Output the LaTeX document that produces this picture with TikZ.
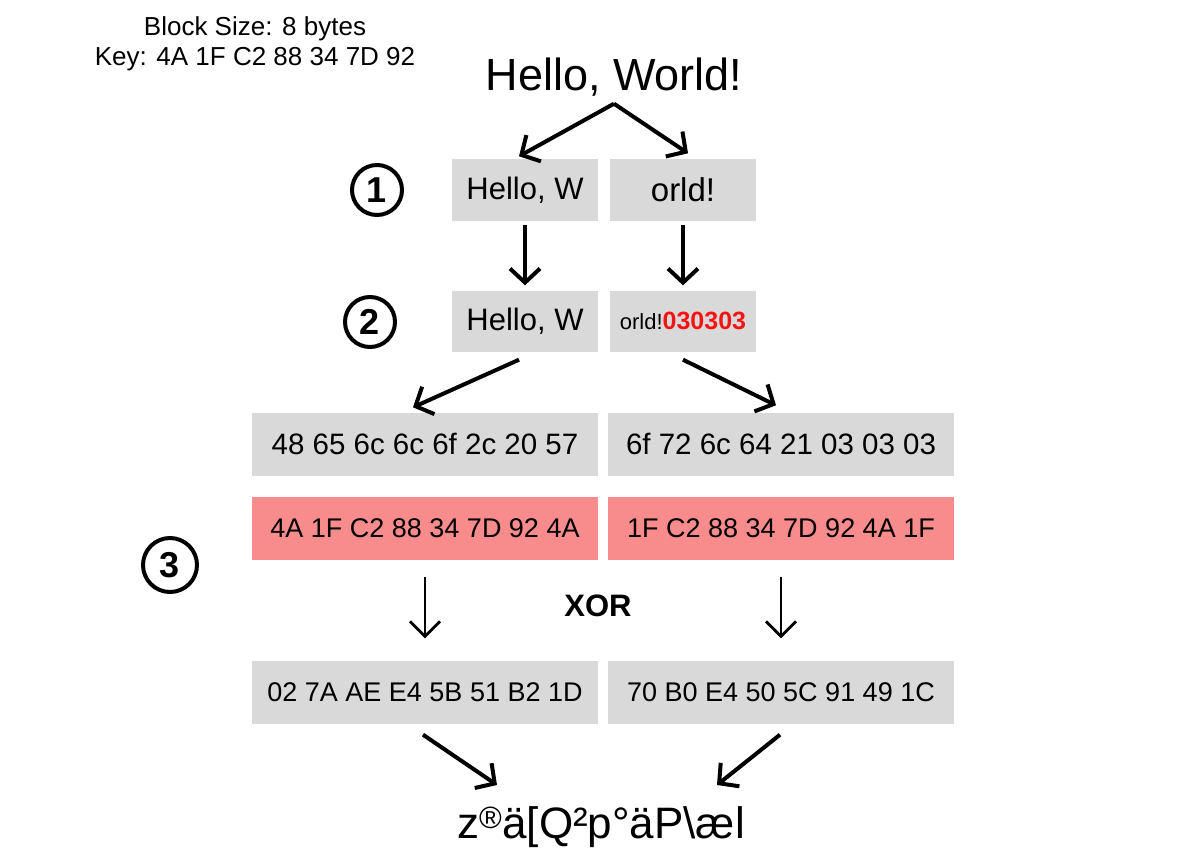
\documentclass[tikz,border=0pt]{standalone}
\usepackage{fontspec}
\setmainfont{Liberation Sans}
\usetikzlibrary{arrows.meta}

\definecolor{blkgray}{HTML}{D9D9D9}
\definecolor{keyred}{HTML}{F88C8C}
\definecolor{padred}{HTML}{F51414}

\newcommand{\fsz}[1]{\fontsize{#1}{1.2\dimexpr#1pt\relax}\selectfont}

\begin{document}
\begin{tikzpicture}[x=1pt, y=-1pt,
    blk/.style={fill=blkgray, inner sep=0pt, minimum width=146pt, minimum height=61pt, font=\fsz{31}},
    hexblk/.style={blk, minimum width=346pt, minimum height=63pt, font=\fsz{27}},
    keyblk/.style={hexblk, fill=keyred},
    numcirc/.style={draw, circle, line width=4pt, minimum size=50pt, inner sep=0pt, font=\bfseries\fsz{36}},
    bigarrow/.style={line width=4pt, -{Straight Barb[length=14pt, width=30pt]}},
    thinarrow/.style={line width=2.8pt, -{Straight Barb[length=15pt, width=30pt]}}]

  \useasboundingbox (0,0) rectangle (1200,864);

  \node[align=center, font=\fsz{26}] (info) at (255,44) {Block Size: 8 bytes\\[-1pt]Key: 4A 1F C2 88 34 7D 92};
  \node[font=\fsz{45}] (hw) at (614,77) {Hello, World!};

  % step 1: split
  \node[numcirc] (c1) at (377,190) {1};
  \node[blk] (h1) at (525,190) {Hello, W};
  \node[blk, font=\fsz{33}] (o1) at (683,190) {orld!};

  % step 2: padding
  \node[numcirc] (c2) at (370,322) {2};
  \node[blk] (h2) at (525,321) {Hello, W};
  \node[blk] (o2) at (683,321) {\fsz{22}orld!\textcolor{padred}{\bfseries\fsz{25}030303}};

  % step 3: xor with key
  \node[numcirc, minimum size=54pt] (c3) at (170,565) {3};
  \node[hexblk, font=\fsz{29.5}] (p1) at (425,444) {48 65 6c 6c 6f 2c 20 57};
  \node[hexblk, font=\fsz{29.5}] (p2) at (781,444) {6f 72 6c 64 21 03 03 03};
  \node[keyblk] (k1) at (425,528) {4A 1F C2 88 34 7D 92 4A};
  \node[keyblk] (k2) at (781,528) {1F C2 88 34 7D 92 4A 1F};
  \node[font=\bfseries\fsz{31}] (xor) at (598,606) {XOR};
  \node[hexblk] (x1) at (425,692) {02 7A AE E4 5B 51 B2 1D};
  \node[hexblk] (x2) at (781,692) {70 B0 E4 50 5C 91 49 1C};

  \node[font=\fsz{44}, anchor=base] (out) at (601,838) {z\textsuperscript{®}ä[Q²p°äP\textbackslash æl};

  \draw[bigarrow] ([yshift=-4pt]hw.south) -- ([xshift=-6pt,yshift=3pt]h1.north);
  \draw[bigarrow] ([yshift=-4pt]hw.south) -- ([xshift=5pt,yshift=6pt]o1.north);
  \draw[bigarrow, shorten <=4pt, shorten >=5pt] (h1.south) -- (h2.north);
  \draw[bigarrow, shorten <=4pt, shorten >=5pt] (o1.south) -- (o2.north);
  \draw[bigarrow] ([xshift=-6pt,yshift=-8pt]h2.south) -- ([xshift=-12pt,yshift=5pt]p1.north);
  \draw[bigarrow] ([yshift=-8pt]o2.south) -- ([xshift=-5pt,yshift=7pt]p2.north);
  \draw[thinarrow, shorten <=17pt, shorten >=22pt] (k1.south) -- (x1.north);
  \draw[thinarrow, shorten <=17pt, shorten >=22pt] (k2.south) -- (x2.north);
  \draw[bigarrow] ([xshift=-2pt,yshift=-11pt]x1.south) -- ([xshift=-104pt,yshift=53pt]out.base);
  \draw[bigarrow] ([xshift=-1pt,yshift=-11pt]x2.south) -- ([xshift=116pt,yshift=53pt]out.base);

\end{tikzpicture}
\end{document}
